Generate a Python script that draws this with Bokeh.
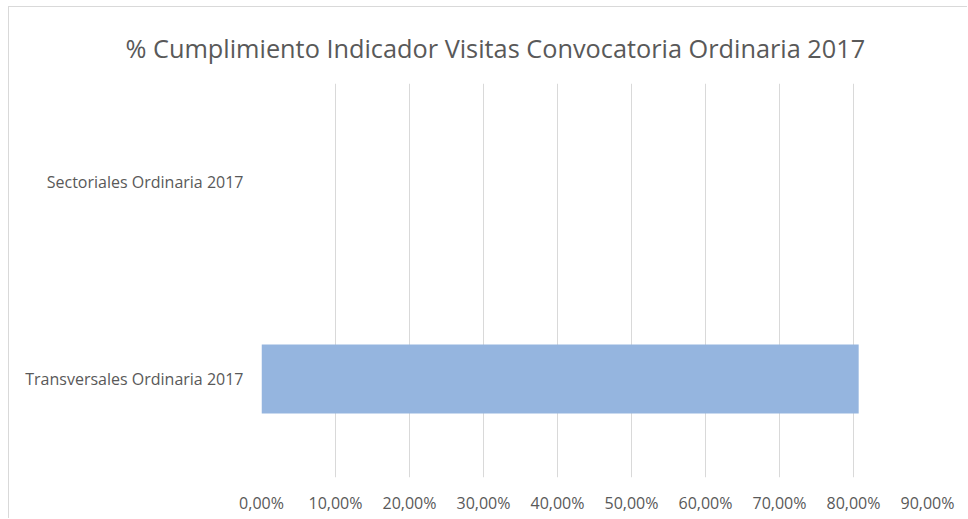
from bokeh.plotting import figure
from bokeh.models import FixedTicker, ColumnDataSource
from bokeh.embed import file_html
from bokeh.resources import INLINE

# data
categories = ["Transversales Ordinaria 2017", "Sectoriales Ordinaria 2017"]
values = [0.807, 0.0]
tick_values = [0.0, 0.1, 0.2, 0.3, 0.4, 0.5, 0.6, 0.7, 0.8, 0.9]
tick_labels = ["0,00%", "10,00%", "20,00%", "30,00%", "40,00%", "50,00%",
               "60,00%", "70,00%", "80,00%", "90,00%"]
title_text = "% Cumplimiento Indicador Visitas Convocatoria Ordinaria 2017"

FONT = "Open Sans"
TXT = "#595959"

src = ColumnDataSource(dict(cat=categories, val=values))

p = figure(width=959, height=512, y_range=categories, x_range=(0, 0.9),
           output_backend="svg", toolbar_location=None,
           min_border_left=252, min_border_right=41, min_border_top=76,
           min_border_bottom=42, title=title_text)
p.styles = {"margin-left": "8px", "margin-top": "6px",
            "border-top": "1px solid #d9d9d9", "border-left": "1px solid #d9d9d9"}

p.hbar(y="cat", right="val", left=0, height=0.35, source=src,
       fill_color="#95B5DF", line_color=None)

p.title.align = "left"
p.title.offset = -136
p.title.standoff = 38
p.title.text_font = FONT
p.title.text_font_size = "25.3px"
p.title.text_font_style = "normal"
p.title.text_color = TXT

p.outline_line_color = None
p.ygrid.grid_line_color = None
p.xgrid.grid_line_color = "#D9D9D9"
p.xgrid.grid_line_width = 1

p.xaxis.ticker = FixedTicker(ticks=tick_values)
p.xaxis.major_label_overrides = {v: l for v, l in zip(tick_values, tick_labels)}
for ax in (p.xaxis[0], p.yaxis[0]):
    ax.axis_line_color = None
    ax.major_tick_line_color = None
    ax.minor_tick_line_color = None
    ax.major_tick_out = 0
    ax.major_tick_in = 0
    ax.major_label_text_font = FONT
    ax.major_label_text_color = TXT
p.xaxis.major_label_text_font_size = "16px"
p.xaxis.major_label_standoff = 14
p.yaxis.major_label_text_font_size = "16px"
p.yaxis.major_label_standoff = 18

open("out.html", "w").write(file_html(p, INLINE))
